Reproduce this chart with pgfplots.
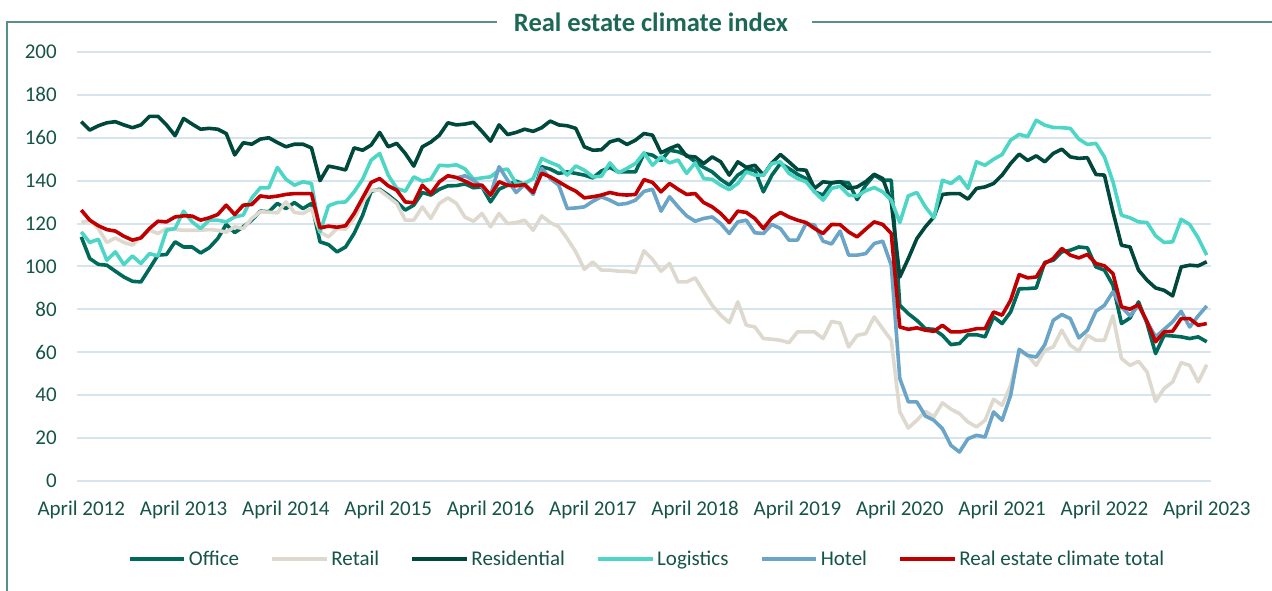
\documentclass[border=0pt]{standalone}
\usepackage{fontspec}
\setmainfont{Carlito}
\usepackage{pgfplots}
\usepackage{pgfplotstable}
\pgfplotsset{compat=1.18}
\definecolor{cOff}{RGB}{0,106,90}
\definecolor{cRet}{RGB}{222,217,207}
\definecolor{cRes}{RGB}{0,72,60}
\definecolor{cLog}{RGB}{77,214,197}
\definecolor{cHot}{RGB}{106,164,198}
\definecolor{cTot}{RGB}{192,0,0}
\definecolor{gridc}{RGB}{214,228,238}
\definecolor{textc}{RGB}{22,84,70}
\definecolor{titlec}{RGB}{28,104,84}
\definecolor{framec}{RGB}{84,146,136}
\pgfplotstableread{
i off ret res log hot tot
0 113.8 120.5 167.5 116.1 nan 126.3
1 103.7 121.6 163.6 111.2 nan 121.6
2 101.0 117.7 165.6 112.7 nan 119.0
3 100.6 111.2 167.0 102.9 nan 117.2
4 97.8 113.3 167.5 106.8 nan 116.5
5 95.1 111.2 166.0 100.9 nan 114.1
6 93.1 110.0 164.7 104.9 nan 112.3
7 92.8 113.8 166.0 101.4 nan 113.3
8 99.0 116.9 170.0 106.0 nan 117.7
9 105.3 115.4 170.0 104.9 nan 121.1
10 105.6 117.7 166.0 116.9 nan 120.8
11 111.5 117.2 161.0 117.7 nan 123.1
12 109.1 116.9 169.0 125.8 nan 123.6
13 109.1 116.9 166.4 120.8 nan 123.5
14 106.3 116.9 164.0 117.7 nan 121.6
15 108.7 117.2 164.4 121.6 nan 122.7
16 113.0 116.9 164.0 121.6 nan 124.2
17 119.6 116.0 162.0 120.8 nan 128.6
18 115.8 118.5 152.0 123.1 nan 124.2
19 118.5 117.7 157.7 124.0 nan 128.6
20 121.6 122.4 157.0 132.0 nan 128.9
21 125.8 125.5 159.4 136.7 nan 132.9
22 125.5 125.3 160.0 136.7 nan 132.3
23 129.4 125.0 157.8 146.2 nan 132.8
24 127.0 130.1 155.8 140.7 nan 133.6
25 129.8 125.2 157.0 137.9 nan 134.0
26 127.0 124.7 157.0 139.5 nan 134.0
27 129.4 127.0 155.3 138.7 nan 134.0
28 111.5 116.1 140.0 116.1 nan 118.0
29 110.2 113.8 146.8 128.3 nan 118.8
30 106.8 117.7 146.0 129.8 nan 118.3
31 109.1 117.4 145.0 130.1 nan 119.0
32 115.4 122.4 155.3 134.8 nan 124.7
33 123.9 130.1 154.2 140.7 nan 132.0
34 135.1 135.6 156.6 149.6 nan 139.2
35 136.0 135.6 162.5 152.7 nan 141.0
36 133.3 132.5 155.8 142.6 nan 137.6
37 130.1 129.4 157.4 136.4 nan 135.6
38 126.3 121.6 152.7 135.1 nan 130.1
39 128.6 121.6 146.8 141.8 nan 129.7
40 134.5 127.8 155.8 139.8 nan 137.9
41 133.3 122.4 158.0 140.7 nan 134.0
42 136.0 129.4 161.2 147.2 nan 139.5
43 137.6 132.0 167.0 146.9 nan 142.3
44 137.7 129.4 166.0 147.4 141.3 141.5
45 138.5 123.0 166.4 145.5 142.3 139.8
46 136.7 121.1 167.2 140.7 140.2 137.9
47 137.1 124.7 163.0 141.3 137.1 137.9
48 130.1 118.5 158.4 141.8 133.3 133.3
49 136.0 124.7 166.0 144.9 146.5 139.5
50 137.9 120.0 161.5 145.4 140.2 137.9
51 139.8 120.5 162.5 138.7 134.5 137.6
52 138.2 121.6 164.0 138.7 138.2 138.2
53 134.0 116.9 163.0 141.0 133.6 134.5
54 146.5 123.6 164.7 150.4 145.7 143.4
55 145.4 120.5 167.8 148.5 141.0 141.8
56 143.4 118.5 166.0 146.9 137.9 139.5
57 144.1 113.0 165.6 142.6 127.0 137.1
58 143.4 106.8 164.4 146.9 127.3 135.1
59 142.6 98.7 155.8 144.9 127.8 132.0
60 141.3 102.1 154.2 141.8 130.4 132.5
61 144.5 98.3 154.4 142.0 132.5 133.3
62 146.2 98.3 158.1 148.3 130.9 134.5
63 144.1 97.8 159.2 143.7 128.9 133.6
64 144.1 97.8 156.9 145.7 129.4 133.3
65 144.1 97.2 158.9 148.0 130.9 133.6
66 152.7 107.3 162.0 153.0 135.0 140.5
67 151.9 103.3 161.2 147.2 136.0 139.2
68 149.3 97.8 153.0 151.1 125.8 134.8
69 154.2 101.4 155.0 148.3 132.5 138.7
70 153.5 92.8 156.6 149.6 127.8 136.0
71 151.9 92.8 151.4 143.4 123.6 133.6
72 148.8 94.7 151.1 148.3 121.1 134.0
73 146.2 88.2 148.0 141.0 122.4 129.8
74 144.1 81.9 151.1 140.6 123.1 127.8
75 140.6 77.3 148.8 137.9 120.0 124.7
76 137.9 73.8 142.6 135.8 115.4 120.5
77 142.6 83.5 148.8 138.7 120.8 125.8
78 145.2 72.6 146.2 144.1 121.6 125.2
79 144.9 71.8 147.2 142.6 115.7 122.4
80 134.8 66.4 142.6 142.6 115.4 117.7
81 142.6 66.1 148.3 148.0 119.6 122.7
82 148.0 65.6 152.2 148.8 117.7 125.2
83 145.7 64.5 148.8 143.4 112.3 123.1
84 143.0 69.5 145.2 141.0 112.3 121.6
85 141.0 69.5 144.9 139.5 120.0 120.5
86 134.8 69.5 136.4 134.8 119.3 117.7
87 133.3 66.4 139.5 130.9 111.8 115.4
88 139.0 74.4 139.0 136.4 110.5 119.6
89 139.5 73.6 139.5 137.4 116.5 119.5
90 139.0 62.5 136.4 133.3 105.3 116.1
91 131.2 67.9 137.1 132.8 105.3 113.8
92 137.9 68.7 139.5 135.3 106.0 117.4
93 142.6 76.5 143.0 136.8 110.7 120.8
94 140.2 71.0 141.0 134.8 111.8 119.6
95 140.2 65.6 130.1 130.9 100.6 115.4
96 81.9 32.2 95.1 120.5 47.8 71.8
97 78.0 24.7 103.7 132.9 36.9 70.7
98 74.9 28.3 113.0 134.5 36.9 71.4
99 71.0 32.5 118.5 127.8 30.3 70.3
100 70.7 29.9 123.1 122.7 28.3 69.8
101 67.9 36.4 133.6 140.2 24.4 72.6
102 63.6 33.5 134.0 138.7 16.6 69.5
103 64.1 31.4 134.0 141.8 13.5 69.5
104 68.2 27.5 131.4 136.4 19.7 70.1
105 68.2 25.2 136.4 148.8 21.3 71.0
106 67.2 28.3 137.1 147.2 20.5 71.0
107 76.5 38.1 138.7 150.0 32.2 78.8
108 73.4 35.3 142.6 152.2 28.3 77.3
109 78.8 44.6 148.0 158.9 40.0 84.3
110 89.6 60.6 152.4 161.6 61.4 96.2
111 89.7 58.6 149.4 160.5 58.5 94.7
112 90.0 53.9 151.6 168.2 57.8 95.1
113 101.9 60.9 148.8 165.9 63.5 101.4
114 102.9 62.5 152.7 164.8 74.9 103.7
115 106.8 70.3 154.7 164.7 77.6 108.4
116 107.6 63.3 151.1 164.4 75.7 105.3
117 109.1 60.5 150.4 159.4 66.7 104.0
118 108.7 67.9 150.7 156.9 70.3 105.6
119 99.8 65.6 142.9 157.4 79.1 101.4
120 98.3 65.6 142.6 151.1 81.9 100.3
121 91.3 77.0 125.5 139.5 88.2 96.7
122 73.4 57.1 109.9 123.9 81.2 81.2
123 76.0 53.9 109.1 122.7 77.0 80.1
124 83.5 55.8 98.3 120.8 81.9 82.2
125 73.4 50.8 93.6 120.5 74.2 74.2
126 59.4 37.1 90.0 114.3 67.2 64.9
127 67.9 43.1 88.9 111.2 70.7 69.5
128 67.6 46.2 86.3 111.5 74.2 69.8
129 67.2 55.2 99.8 122.0 79.1 75.7
130 66.4 53.9 100.6 119.6 71.8 75.7
131 67.2 46.2 100.3 113.3 77.0 72.6
132 64.9 54.2 102.2 105.3 81.6 73.4
}\data
\begin{document}
\begin{tikzpicture}
\useasboundingbox (0,0) rectangle (954pt,443.25pt);
\draw[framec, line width=1.5pt] (5.25pt,0pt) -- (5.25pt,426.75pt) -- (372.75pt,426.75pt);
\draw[framec, line width=1.5pt] (609pt,426.75pt) -- (954pt,426.75pt);
\node[font=\fontsize{19.9}{24}\selectfont\bfseries, text=titlec] at (488.25pt,426.75pt) {Real estate climate index};
\begin{axis}[
  at={(57.75pt,82.5pt)}, anchor=south west,
  scale only axis, width=850.5pt, height=321.75pt,
  xmin=-0.5, xmax=132.5, ymin=0, ymax=200,
  ytick={0,20,...,200},
  xtick={0,12,...,132},
  xticklabels={April 2012,April 2013,April 2014,April 2015,April 2016,April 2017,April 2018,April 2019,April 2020,April 2021,April 2022,April 2023},
  ymajorgrids,
  grid style={gridc, line width=1.5pt},
  axis line style={draw=none},
  major tick length=0pt,
  tick style={draw=none},
  /pgf/number format/assume math mode=true,
  ticklabel style={font=\fontsize{15.75}{18}\selectfont, text=textc},
  yticklabel style={anchor=east, inner sep=0pt, xshift=-15pt},
  xticklabel style={anchor=base, inner sep=0pt, yshift=-25.9pt},
  clip=false,
  every axis plot/.append style={line width=2.7pt, mark=none, line join=round},
  legend columns=6,
  legend cell align=left,
  legend image code/.code={\draw[#1] (0pt,0pt) -- (41pt,0pt);},
  legend style={at={(0.503,-0.182)}, anchor=center, draw=none, fill=none,
    font=\fontsize{15.75}{18}\selectfont, text=textc,
    /tikz/every even column/.append style={column sep=21.5pt}},
]
\addplot[cOff] table[x=i, y=off] {\data};
\addlegendentry{Office}
\addplot[cRet] table[x=i, y=ret] {\data};
\addlegendentry{Retail}
\addplot[cRes] table[x=i, y=res] {\data};
\addlegendentry{Residential}
\addplot[cLog] table[x=i, y=log] {\data};
\addlegendentry{Logistics}
\addplot[cHot, unbounded coords=discard] table[x=i, y=hot] {\data};
\addlegendentry{Hotel}
\addplot[cTot] table[x=i, y=tot] {\data};
\addlegendentry{Real estate climate total}
\end{axis}
\end{tikzpicture}
\end{document}
